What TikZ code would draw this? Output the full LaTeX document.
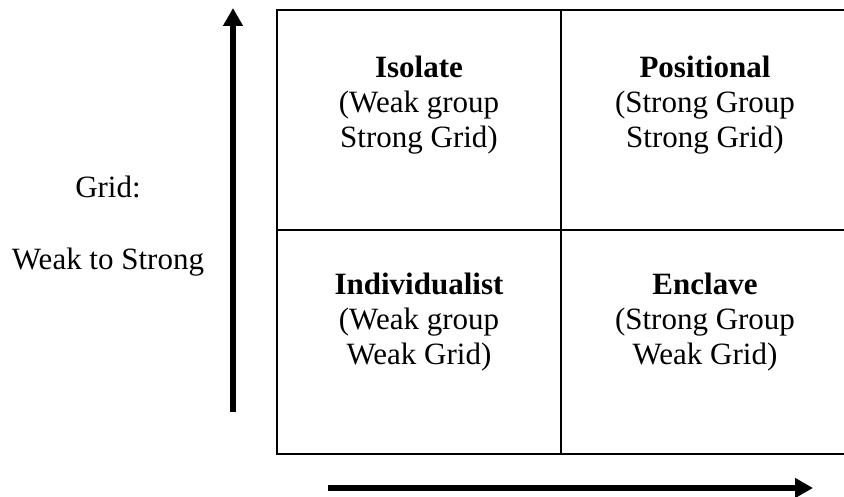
\documentclass[tikz,border=0pt]{standalone}
\usepackage{fontspec}
\setmainfont{Liberation Serif}
\usetikzlibrary{arrows.meta, positioning}

\begin{document}
\begin{tikzpicture}[x=1pt, y=-1pt,
    cell/.style={align=center, inner sep=0pt, font=\fontsize{31}{35}\selectfont},
    frame/.style={line width=2.2pt},
    axis/.style={line width=6.5pt, -{Triangle[length=18pt, width=19pt]}}]
  \useasboundingbox (0,0) rectangle (844,497);
  % the four cells
  \draw[frame] (277,10) rectangle (849,454);
  \draw[frame] (561,10) -- (561,454);
  \draw[frame] (277,230) -- (849,230);
  \node[cell] (isolate) at (419,105)
       {\textbf{Isolate}\\(Weak group\\Strong Grid)};
  \node[cell] (positional) at (705,105)
       {\textbf{Positional}\\(Strong Group\\Strong Grid)};
  \node[cell] (individualist) at (419,322)
       {\textbf{Individualist}\\(Weak group\\Weak Grid)};
  \node[cell] (enclave) at (705,322)
       {\textbf{Enclave}\\(Strong Group\\Weak Grid)};
  % axes
  \node[cell, font=\fontsize{31}{36}\selectfont] (gridlabel) at (108,226)
       {Grid:\\[36pt]Weak to Strong};
  \coordinate (gridlow) at (233,412);
  \coordinate (gridhigh) at (233,8);
  \coordinate (grouplow) at (328,488);
  \coordinate (grouphigh) at (813,488);
  \draw[axis] (gridlow) -- (gridhigh);
  \draw[axis] (grouplow) -- (grouphigh);
\end{tikzpicture}
\end{document}
